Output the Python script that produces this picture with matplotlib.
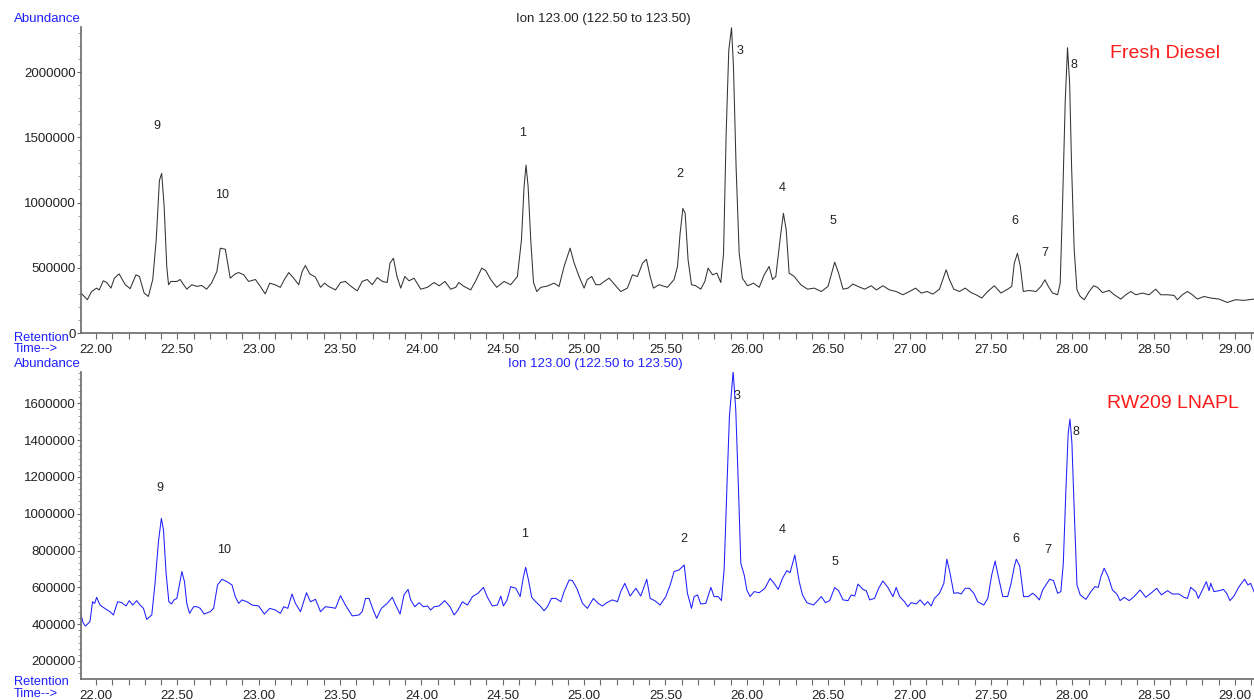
import matplotlib
matplotlib.use("Agg")
import matplotlib.pyplot as plt
from matplotlib.ticker import MultipleLocator, FuncFormatter

plt.rcParams['font.family'] = ['Liberation Sans', 'DejaVu Sans']

# ---------------- data: Fresh Diesel (top) ----------------
fresh_time = [
    21.908, 21.947, 21.973, 22.004, 22.020, 22.045, 22.066, 22.092, 22.113, 22.142,
    22.180, 22.210, 22.246, 22.267, 22.296, 22.322, 22.349, 22.370, 22.390, 22.404,
    22.419, 22.435, 22.446, 22.460, 22.497, 22.517, 22.558, 22.589, 22.620, 22.650,
    22.680, 22.710, 22.743, 22.764, 22.795, 22.825, 22.856, 22.877, 22.908, 22.938,
    22.980, 23.010, 23.040, 23.068, 23.100, 23.133, 23.158, 23.185, 23.215, 23.246,
    23.267, 23.287, 23.314, 23.349, 23.380, 23.405, 23.430, 23.472, 23.503, 23.533,
    23.565, 23.606, 23.636, 23.667, 23.698, 23.729, 23.760, 23.790, 23.807, 23.828,
    23.850, 23.873, 23.898, 23.924, 23.955, 23.996, 24.037, 24.078, 24.109, 24.145,
    24.180, 24.211, 24.230, 24.262, 24.303, 24.334, 24.371, 24.395, 24.426, 24.463,
    24.508, 24.549, 24.590, 24.615, 24.631, 24.643, 24.656, 24.672, 24.689, 24.709,
    24.734, 24.775, 24.816, 24.846, 24.877, 24.914, 24.939, 24.969, 25.000, 25.020,
    25.047, 25.072, 25.098, 25.123, 25.154, 25.180, 25.225, 25.266, 25.297, 25.328,
    25.359, 25.383, 25.406, 25.426, 25.461, 25.512, 25.553, 25.574, 25.590, 25.607,
    25.621, 25.639, 25.660, 25.686, 25.717, 25.742, 25.762, 25.789, 25.816, 25.840,
    25.857, 25.873, 25.889, 25.906, 25.918, 25.934, 25.953, 25.973, 26.004, 26.041,
    26.076, 26.107, 26.137, 26.158, 26.178, 26.209, 26.225, 26.242, 26.260, 26.291,
    26.332, 26.373, 26.414, 26.458, 26.499, 26.540, 26.564, 26.591, 26.622, 26.652,
    26.683, 26.724, 26.765, 26.796, 26.836, 26.877, 26.918, 26.959, 27.000, 27.037,
    27.072, 27.108, 27.143, 27.184, 27.211, 27.225, 27.245, 27.272, 27.307, 27.342,
    27.378, 27.409, 27.444, 27.480, 27.521, 27.562, 27.603, 27.628, 27.644, 27.663,
    27.681, 27.699, 27.736, 27.777, 27.808, 27.832, 27.853, 27.879, 27.910, 27.926,
    27.941, 27.957, 27.971, 27.984, 27.996, 28.012, 28.029, 28.049, 28.074, 28.104,
    28.131, 28.155, 28.186, 28.227, 28.258, 28.299, 28.329, 28.360, 28.391, 28.431,
    28.472, 28.513, 28.544, 28.585, 28.626, 28.646, 28.677, 28.708, 28.738, 28.769,
    28.810, 28.851, 28.902, 28.953, 29.004, 29.055, 29.117,
]
fresh_abund = [
    306000, 255000, 318000, 344000, 330000, 400000, 387000, 344000, 420000, 453000,
    370000, 340000, 446000, 433000, 306000, 280000, 410000, 710000, 1170000, 1223000,
    970000, 510000, 370000, 395000, 395000, 410000, 336000, 370000, 357000, 364000,
    336000, 382000, 471000, 650000, 642000, 420000, 453000, 463000, 446000, 395000,
    410000, 357000, 300000, 382000, 370000, 350000, 410000, 463000, 420000, 370000,
    471000, 517000, 453000, 428000, 350000, 382000, 357000, 330000, 387000, 395000,
    360000, 323000, 395000, 410000, 370000, 425000, 395000, 387000, 535000, 573000,
    433000, 344000, 433000, 400000, 420000, 336000, 350000, 387000, 362000, 395000,
    336000, 350000, 387000, 357000, 330000, 400000, 497000, 479000, 410000, 350000,
    395000, 370000, 433000, 713000, 1121000, 1287000, 1120000, 713000, 387000, 318000,
    350000, 360000, 382000, 357000, 510000, 650000, 535000, 433000, 344000, 410000,
    433000, 370000, 370000, 395000, 420000, 382000, 318000, 344000, 446000, 433000,
    535000, 565000, 433000, 344000, 370000, 350000, 410000, 510000, 764000, 955000,
    917000, 560000, 370000, 362000, 336000, 395000, 497000, 446000, 459000, 387000,
    611000, 1530000, 2166000, 2339000, 2038000, 1274000, 611000, 420000, 362000, 382000,
    350000, 446000, 510000, 410000, 433000, 764000, 917000, 790000, 459000, 433000,
    370000, 336000, 344000, 318000, 357000, 543000, 459000, 336000, 344000, 375000,
    357000, 336000, 362000, 330000, 362000, 330000, 318000, 293000, 318000, 344000,
    306000, 318000, 298000, 336000, 433000, 484000, 410000, 336000, 318000, 344000,
    310000, 293000, 268000, 318000, 362000, 306000, 336000, 357000, 535000, 611000,
    510000, 318000, 326000, 318000, 357000, 408000, 357000, 306000, 293000, 382000,
    1019000, 1783000, 2186000, 1911000, 1274000, 637000, 330000, 280000, 255000, 318000,
    362000, 350000, 310000, 326000, 293000, 260000, 293000, 318000, 293000, 306000,
    293000, 336000, 293000, 293000, 288000, 255000, 293000, 318000, 293000, 260000,
    280000, 268000, 260000, 234000, 255000, 250000, 260000,
]

# ---------------- data: RW209 LNAPL (bottom) ----------------
lnapl_time = [
    21.908, 21.922, 21.936, 21.963, 21.979, 21.992, 22.004, 22.025, 22.062, 22.086,
    22.107, 22.133, 22.158, 22.185, 22.205, 22.226, 22.250, 22.271, 22.292, 22.312,
    22.343, 22.363, 22.384, 22.402, 22.415, 22.431, 22.448, 22.464, 22.480, 22.497,
    22.528, 22.544, 22.558, 22.575, 22.600, 22.620, 22.641, 22.665, 22.702, 22.723,
    22.747, 22.774, 22.805, 22.836, 22.856, 22.877, 22.897, 22.928, 22.959, 23.000,
    23.035, 23.068, 23.103, 23.133, 23.154, 23.179, 23.205, 23.226, 23.257, 23.294,
    23.318, 23.349, 23.380, 23.410, 23.452, 23.472, 23.503, 23.533, 23.575, 23.616,
    23.636, 23.657, 23.678, 23.704, 23.725, 23.754, 23.790, 23.821, 23.842, 23.869,
    23.893, 23.918, 23.934, 23.959, 23.986, 24.012, 24.037, 24.057, 24.078, 24.109,
    24.143, 24.176, 24.201, 24.225, 24.252, 24.283, 24.314, 24.348, 24.381, 24.406,
    24.436, 24.467, 24.488, 24.504, 24.525, 24.549, 24.580, 24.607, 24.627, 24.641,
    24.658, 24.678, 24.703, 24.730, 24.754, 24.775, 24.799, 24.826, 24.857, 24.877,
    24.908, 24.928, 24.955, 24.990, 25.020, 25.057, 25.086, 25.113, 25.139, 25.174,
    25.205, 25.225, 25.250, 25.283, 25.318, 25.348, 25.369, 25.385, 25.406, 25.434,
    25.467, 25.502, 25.529, 25.553, 25.584, 25.615, 25.635, 25.660, 25.676, 25.697,
    25.717, 25.748, 25.779, 25.799, 25.824, 25.844, 25.861, 25.877, 25.893, 25.916,
    25.932, 25.949, 25.963, 25.984, 26.000, 26.020, 26.045, 26.076, 26.111, 26.143,
    26.168, 26.193, 26.219, 26.246, 26.266, 26.295, 26.322, 26.342, 26.369, 26.410,
    26.458, 26.483, 26.509, 26.540, 26.564, 26.591, 26.622, 26.642, 26.663, 26.683,
    26.714, 26.734, 26.755, 26.785, 26.810, 26.836, 26.867, 26.898, 26.918, 26.939,
    26.969, 26.990, 27.010, 27.041, 27.065, 27.092, 27.112, 27.133, 27.153, 27.184,
    27.211, 27.229, 27.247, 27.272, 27.297, 27.317, 27.342, 27.368, 27.395, 27.419,
    27.456, 27.481, 27.505, 27.526, 27.546, 27.573, 27.603, 27.624, 27.644, 27.656,
    27.677, 27.701, 27.730, 27.757, 27.777, 27.798, 27.818, 27.845, 27.861, 27.885,
    27.910, 27.930, 27.945, 27.961, 27.975, 27.986, 27.998, 28.012, 28.029, 28.049,
    28.084, 28.115, 28.139, 28.160, 28.176, 28.196, 28.221, 28.247, 28.274, 28.294,
    28.319, 28.350, 28.380, 28.417, 28.452, 28.483, 28.519, 28.548, 28.585, 28.616,
    28.656, 28.687, 28.708, 28.728, 28.759, 28.775, 28.800, 28.824, 28.841, 28.851,
    28.871, 28.902, 28.929, 28.949, 28.969, 28.994, 29.025, 29.059, 29.080, 29.096,
    29.117,
]
lnapl_abund = [
    450000, 405000, 390000, 414000, 522000, 513000, 546000, 504000, 481000, 468000,
    450000, 522000, 517000, 499000, 528000, 504000, 528000, 504000, 486000, 426000,
    450000, 622000, 849000, 975000, 912000, 676000, 522000, 510000, 532000, 540000,
    686000, 631000, 513000, 459000, 495000, 495000, 486000, 455000, 468000, 486000,
    613000, 644000, 631000, 613000, 550000, 513000, 532000, 522000, 504000, 499000,
    455000, 486000, 477000, 459000, 495000, 486000, 564000, 513000, 468000, 571000,
    522000, 535000, 468000, 495000, 490000, 486000, 555000, 504000, 445000, 450000,
    468000, 540000, 540000, 477000, 432000, 486000, 513000, 546000, 504000, 455000,
    559000, 589000, 532000, 495000, 517000, 495000, 499000, 477000, 495000, 499000,
    528000, 495000, 450000, 477000, 522000, 504000, 550000, 568000, 600000, 546000,
    499000, 504000, 553000, 499000, 528000, 604000, 595000, 550000, 658000, 709000,
    640000, 546000, 522000, 499000, 473000, 495000, 540000, 540000, 522000, 577000,
    640000, 637000, 595000, 513000, 486000, 540000, 513000, 499000, 517000, 532000,
    522000, 577000, 622000, 553000, 595000, 553000, 604000, 644000, 540000, 528000,
    504000, 550000, 613000, 686000, 695000, 722000, 568000, 486000, 550000, 559000,
    510000, 513000, 600000, 550000, 550000, 528000, 704000, 1129000, 1528000, 1772000,
    1564000, 1129000, 731000, 667000, 586000, 550000, 577000, 571000, 595000, 649000,
    622000, 589000, 649000, 691000, 680000, 776000, 631000, 559000, 517000, 504000,
    550000, 517000, 528000, 599000, 582000, 532000, 528000, 559000, 553000, 618000,
    589000, 582000, 532000, 540000, 595000, 635000, 600000, 550000, 600000, 550000,
    522000, 495000, 517000, 510000, 532000, 504000, 522000, 499000, 540000, 568000,
    622000, 753000, 686000, 568000, 571000, 564000, 595000, 595000, 568000, 522000,
    504000, 540000, 667000, 743000, 658000, 550000, 550000, 622000, 713000, 753000,
    716000, 550000, 550000, 568000, 553000, 532000, 586000, 622000, 644000, 637000,
    568000, 577000, 731000, 1129000, 1437000, 1515000, 1383000, 1021000, 613000, 559000,
    535000, 577000, 604000, 600000, 658000, 704000, 658000, 586000, 564000, 528000,
    546000, 528000, 550000, 586000, 546000, 568000, 595000, 559000, 582000, 564000,
    564000, 546000, 540000, 600000, 577000, 540000, 586000, 631000, 582000, 622000,
    577000, 582000, 589000, 568000, 528000, 553000, 604000, 644000, 613000, 622000,
    577000,
]

# ---------------- peak annotations ----------------
peak_labels = ['9', '10', '1', '2', '3', '4', '5', '6', '7', '8']
fresh_label_time = [22.375, 22.774, 24.624, 25.589, 25.958, 26.216, 26.530, 27.648, 27.833, 28.011]
fresh_label_abund = [1586000, 1057000, 1533000, 1218000, 2161000, 1111000, 858000, 858000, 613000, 2054000]
lnapl_label_time = [22.393, 22.787, 24.631, 25.614, 25.940, 26.216, 26.542, 27.655, 27.851, 28.023]
lnapl_label_abund = [1140000, 803000, 890000, 863000, 1640000, 912000, 738000, 863000, 803000, 1444000]

x_ticks = [22.0, 22.5, 23.0, 23.5, 24.0, 24.5, 25.0, 25.5, 26.0, 26.5, 27.0, 27.5, 28.0, 28.5, 29.0]
fresh_yticks = [0, 500000, 1000000, 1500000, 2000000]
lnapl_yticks = [200000, 400000, 600000, 800000, 1000000, 1200000, 1400000, 1600000]

title_text = 'Ion 123.00 (122.50 to 123.50)'

# ---------------- figure ----------------
W, H = 1254, 700
fig = plt.figure(figsize=(W / 100, H / 100), dpi=100)
fig.patch.set_facecolor('white')

def fax(left, top, right, bottom):
    return fig.add_axes([left / W, 1 - bottom / H, (right - left) / W, (bottom - top) / H])

def ftext(x, y, s, **kw):
    fig.text(x / W, 1 - y / H, s, **kw)

ax1 = fax(81, 27, 1254, 333)
ax2 = fax(81, 371.7, 1254, 679.3)

BLUE = '#1f1fff'
TXT = '#222222'
AXC = '#6a6a6a'

for ax in (ax1, ax2):
    ax.set_xlim(21.908, 29.117)
    ax.spines['top'].set_visible(False)
    ax.spines['right'].set_visible(False)
    for side in ('left', 'bottom'):
        ax.spines[side].set_color(AXC)
        ax.spines[side].set_linewidth(1.2)
    ax.set_xticks(x_ticks)
    ax.xaxis.set_minor_locator(MultipleLocator(0.1))
    ax.xaxis.set_major_formatter(FuncFormatter(lambda v, p: f'{v:.2f}'))
    ax.yaxis.set_major_formatter(FuncFormatter(lambda v, p: f'{int(round(v))}'))
    ax.tick_params(axis='x', which='major', direction='out', length=4, width=0.8,
                   pad=4, labelsize=9.5, colors=AXC, labelcolor=TXT)
    ax.tick_params(axis='x', which='minor', direction='out', length=4, width=0.8,
                   colors=AXC)
    ax.tick_params(axis='y', which='major', direction='out', length=3, width=0.8,
                   pad=1, labelsize=9.5, colors=AXC, labelcolor=TXT)
    ax.tick_params(axis='y', which='minor', direction='out', length=2, width=0.6,
                   colors='#888888')
    ax.set_facecolor('white')

# top panel
ax1.plot(fresh_time, fresh_abund, color='#333333', lw=0.75)
ax1.set_ylim(0, 2345000)
ax1.set_yticks(fresh_yticks)
ax1.yaxis.set_minor_locator(MultipleLocator(100000))
for lab, t, v in zip(peak_labels, fresh_label_time, fresh_label_abund):
    ax1.text(t, v, lab, ha='center', va='center', fontsize=9, color=TXT)

# bottom panel
ax2.plot(lnapl_time, lnapl_abund, color=BLUE, lw=0.75)
ax2.set_ylim(100500, 1772000)
ax2.set_yticks(lnapl_yticks)
ax2.yaxis.set_minor_locator(MultipleLocator(200000 / 6))
for lab, t, v in zip(peak_labels, lnapl_label_time, lnapl_label_abund):
    ax2.text(t, v, lab, ha='center', va='center', fontsize=9, color=TXT)

# panel texts
ftext(14, 19, 'Abundance', ha='left', va='center', fontsize=9.5, color=BLUE)
ftext(603, 19, title_text, ha='center', va='center', fontsize=9.5, color=TXT)
ftext(14, 338, 'Retention', ha='left', va='center', fontsize=9.2, color=BLUE)
ftext(14, 349, 'Time-->', ha='left', va='center', fontsize=9.2, color=BLUE)
ftext(1110, 54, 'Fresh Diesel', ha='left', va='center', fontsize=14, color='#ff1a1a')

ftext(14, 364, 'Abundance', ha='left', va='center', fontsize=9.5, color=BLUE)
ftext(595, 364, title_text, ha='center', va='center', fontsize=9.5, color=BLUE)
ftext(14, 682, 'Retention', ha='left', va='center', fontsize=9.2, color=BLUE)
ftext(14, 694, 'Time-->', ha='left', va='center', fontsize=9.2, color=BLUE)
ftext(1107, 403, 'RW209 LNAPL', ha='left', va='center', fontsize=14, color='#ff1a1a')

fig.savefig('out.png', dpi=100, facecolor='white')
